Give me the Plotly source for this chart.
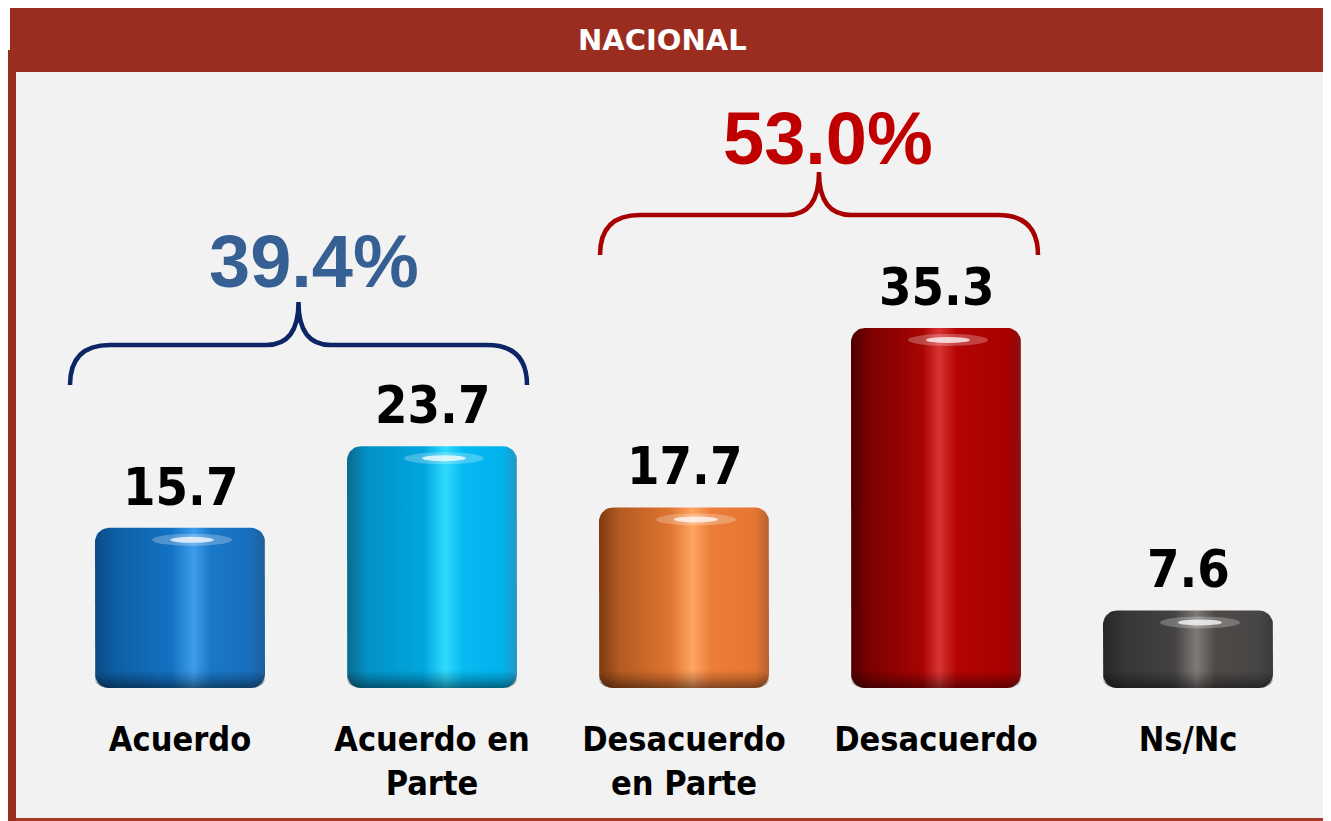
import numpy as np
import plotly.graph_objects as go

CATEGORIES = ["Acuerdo", "Acuerdo en<br>Parte", "Desacuerdo<br>en Parte", "Desacuerdo", "Ns/Nc"]
VALUES = [15.7, 23.7, 17.7, 35.3, 7.6]
VALUE_LABELS = ["15.7", "23.7", "17.7", "35.3", "7.6"]
GROUP_LABELS = ["39.4%", "53.0%"]
TITLE = "NACIONAL"

# horizontal gradients for the "cylinder" look, left -> right
BAR_SCALES = [
    [[0, "#0A4C86"], [0.12, "#0E5FA4"], [0.45, "#1372C4"], [0.58, "#3D9DEB"], [0.68, "#1A78C8"], [0.92, "#176FBC"], [1, "#1F5F98"]],
    [[0, "#0B6A8E"], [0.12, "#0392C6"], [0.45, "#00A6DE"], [0.58, "#2FDAFF"], [0.68, "#06BAF2"], [0.92, "#00B2EC"], [1, "#2596C4"]],
    [[0, "#7E3A12"], [0.12, "#B45A22"], [0.42, "#E07430"], [0.55, "#FFA462"], [0.66, "#EC7E38"], [0.92, "#E47632"], [1, "#B86030"]],
    [[0, "#4E0000"], [0.12, "#7E0000"], [0.42, "#A80404"], [0.52, "#D83434"], [0.62, "#B40404"], [0.92, "#A80000"], [1, "#8A1010"]],
    [[0, "#262626"], [0.12, "#363636"], [0.42, "#444242"], [0.55, "#7E7A78"], [0.66, "#4E4A48"], [0.92, "#474545"], [1, "#3A3A3A"]],
]
BRACE_COLORS = ["#0B2566", "#A80000"]
GROUP_COLORS = ["#365F93", "#C00000"]
RED = "#9B2D20"

# the page body has an 8px margin, so figure coords = screen coords - OFF
OFF = 8
SW, SH = 1331, 821
W, H = SW - OFF, SH - OFF
L, T = 54 - OFF, 80 - OFF
R = W - (1314 - OFF)
B = H - (688 - OFF)
PW, PH = W - L - R, H - T - B
Y_MAX = 59.6
UX = PW / len(VALUES)       # px per x unit
UY = PH / Y_MAX             # px per y unit
HALF_W = 85 / UX


def px(x):
    return (x - OFF - L) / PW


def py(y):
    return (H - B - (y - OFF)) / PH


def rounded_bar(xc, h, hw, rpx=14):
    rx = rpx / UX
    ry = min(rpx / UY, h / 2)
    xs, ys = [], []
    corners = [
        (xc + hw - rx, ry, -np.pi / 2),
        (xc + hw - rx, h - ry, 0),
        (xc - hw + rx, h - ry, np.pi / 2),
        (xc - hw + rx, ry, np.pi),
    ]
    for cx, cy, a0 in corners:
        a = np.linspace(a0, a0 + np.pi / 2, 10)
        xs += list(cx + rx * np.cos(a))
        ys += list(cy + ry * np.sin(a))
    xs.append(xs[0])
    ys.append(ys[0])
    return xs, ys


fig = go.Figure()

shapes = [
    dict(type="rect", xref="paper", yref="paper", x0=px(16), x1=px(SW), y0=py(819), y1=py(72),
         fillcolor="#F2F2F2", line_width=0, layer="below"),
    dict(type="rect", xref="paper", yref="paper", x0=px(10), x1=px(SW), y0=py(72), y1=py(8),
         fillcolor=RED, line_width=0, layer="below"),
    dict(type="rect", xref="paper", yref="paper", x0=px(7), x1=px(16), y0=py(SH), y1=py(50),
         fillcolor=RED, line_width=0, layer="below"),
    dict(type="rect", xref="paper", yref="paper", x0=px(16), x1=px(SW), y0=py(SH), y1=py(818),
         fillcolor="#A83828", line_width=0, layer="below"),
]

for i, (v, scale) in enumerate(zip(VALUES, BAR_SCALES)):
    xs, ys = rounded_bar(i, v, HALF_W)
    fig.add_trace(go.Scatter(x=xs, y=ys, mode="lines", fill="toself", line=dict(width=0),
                             fillgradient=dict(type="horizontal", colorscale=scale),
                             hoverinfo="skip", showlegend=False))
    # darker bottom lip
    bx, by = rounded_bar(i, 18 / UY, HALF_W)
    fig.add_trace(go.Scatter(x=bx, y=by, mode="lines", fill="toself", line=dict(width=0),
                             fillgradient=dict(type="vertical",
                                               colorscale=[[0, "rgba(0,0,0,0.45)"], [0.6, "rgba(0,0,0,0.15)"], [1, "rgba(0,0,0,0)"]]),
                             hoverinfo="skip", showlegend=False))
    # glint near the top
    gx = i + 12 / UX
    gy = v - 12 / UY
    shapes.append(dict(type="circle", xref="x", yref="y", x0=gx - 40 / UX, x1=gx + 40 / UX,
                       y0=gy - 6 / UY, y1=gy + 6 / UY, fillcolor="white", opacity=0.25, line_width=0))
    shapes.append(dict(type="circle", xref="x", yref="y", x0=gx - 22 / UX, x1=gx + 22 / UX,
                       y0=gy - 3 / UY, y1=gy + 3 / UY, fillcolor="white", opacity=0.75, line_width=0))

annotations = [
    dict(x=i, y=v, xref="x", yref="y", text=f"<b>{t}</b>", showarrow=False, yanchor="bottom", yshift=9,
         font=dict(family="DejaVu Sans Condensed, DejaVu Sans", size=52, color="black"))
    for i, (v, t) in enumerate(zip(VALUES, VALUE_LABELS))
]

# braces over the groups (drawn in screen pixels, mapped to paper)
braces = [
    dict(x0=70, x1=527, y_end=385, y_mid=345, y_tip=302, lx=15, ly=-40),
    dict(x0=600, x1=1038, y_end=255, y_mid=215, y_tip=172, lx=9, ly=-34),
]
for b, col, lab, lcol in zip(braces, BRACE_COLORS, GROUP_LABELS, GROUP_COLORS):
    x0, x1 = b["x0"], b["x1"]
    xm = (x0 + x1) / 2
    ye, ym, yt = b["y_end"], b["y_mid"], b["y_tip"]
    r = 40
    pts = [
        ("M", [(x0, ye)]),
        ("Q", [(x0, ym), (x0 + r, ym)]),
        ("L", [(xm - 32, ym)]),
        ("Q", [(xm, ym), (xm, yt)]),
        ("Q", [(xm, ym), (xm + 32, ym)]),
        ("L", [(x1 - r, ym)]),
        ("Q", [(x1, ym), (x1, ye)]),
    ]
    path = " ".join(cmd + " " + " ".join(f"{px(a):.5f},{py(c):.5f}" for a, c in p) for cmd, p in pts)
    shapes.append(dict(type="path", xref="paper", yref="paper", path=path,
                       line=dict(color=col, width=4.5)))
    annotations.append(dict(x=px(xm + b["lx"]), y=py(yt + b["ly"]), xref="paper", yref="paper", text=f"<b>{lab}</b>",
                            xanchor="center", yanchor="middle", showarrow=False,
                            font=dict(family="Liberation Sans", size=74, color=lcol)))

annotations.append(dict(x=px(662), y=py(40), xref="paper", yref="paper", text=f"<b>{TITLE}</b>",
                        xanchor="center", yanchor="middle", showarrow=False,
                        font=dict(family="DejaVu Sans", size=29, color="white")))

fig.update_layout(
    width=W, height=H,
    margin=dict(l=L, r=R, t=T, b=B),
    paper_bgcolor="white",
    plot_bgcolor="rgba(0,0,0,0)",
    shapes=shapes,
    annotations=annotations,
    xaxis=dict(range=[-0.5, len(VALUES) - 0.5], tickvals=list(range(len(VALUES))),
               ticktext=[f"<b>{c}</b>" for c in CATEGORIES],
               tickfont=dict(family="DejaVu Sans Condensed, DejaVu Sans", size=34, color="black"),
               ticks="outside", ticklen=21, tickcolor="rgba(0,0,0,0)",
               showgrid=False, zeroline=False, showline=False, fixedrange=True),
    yaxis=dict(range=[0, Y_MAX], visible=False, fixedrange=True),
)

fig.write_html("out.html")
